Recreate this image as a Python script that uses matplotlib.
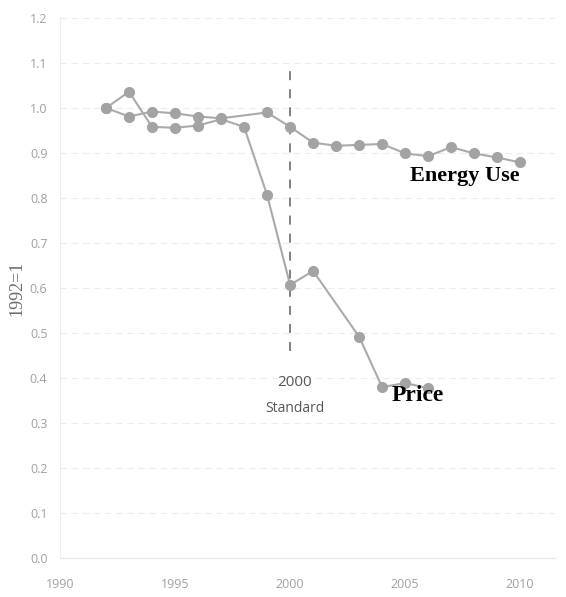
import numpy as np
import matplotlib
matplotlib.use("Agg")
import matplotlib.pyplot as plt

# energy use index (1992 = 1)
energy_years = [1992, 1993, 1994, 1995, 1996, 1997, 1999, 2000, 2001, 2002,
                2003, 2004, 2005, 2006, 2007, 2008, 2009, 2010]
energy_vals = [1.0, 0.981, 0.992, 0.988, 0.981, 0.977, 0.99, 0.958, 0.923, 0.916,
               0.918, 0.92, 0.899, 0.893, 0.913, 0.899, 0.89, 0.879]

# price index (1992 = 1)
price_years = [1992, 1993, 1994, 1995, 1996, 1997, 1998, 1999, 2000, 2001,
               2003, 2004, 2005, 2006]
price_vals = [1.0, 1.036, 0.958, 0.956, 0.961, 0.975, 0.958, 0.807, 0.607, 0.638,
              0.492, 0.38, 0.389, 0.378]

x_ticks = [1990, 1995, 2000, 2005, 2010]
y_ticks = [0.0, 0.1, 0.2, 0.3, 0.4, 0.5, 0.6, 0.7, 0.8, 0.9, 1.0, 1.1, 1.2]

standard_year = 2000
standard_span = (0.46, 1.10)

fig = plt.figure(figsize=(5.66, 5.97), dpi=100)
ax = fig.add_axes([0.106, 0.065, 0.874, 0.905])

line_col = "#aaaaaa"
mark_col = "#a3a3a3"
ax.plot(energy_years, energy_vals, color=line_col, lw=1.5, marker="o",
        ms=7, mfc=mark_col, mec=mark_col, zorder=3)
ax.plot(price_years, price_vals, color=line_col, lw=1.5, marker="o",
        ms=7, mfc=mark_col, mec=mark_col, zorder=3)

ax.vlines(standard_year, standard_span[0], standard_span[1], colors="#777777",
          linestyles=(0, (5, 5)), lw=1.3, zorder=2)
ax.text(standard_year + 0.2, 0.391, "2000", ha="center", va="center",
        fontsize=11, color="#555555", family="Open Sans")
ax.text(standard_year + 0.2, 0.333, "Standard", ha="center", va="center",
        fontsize=10, color="#555555", family="Open Sans")

ax.text(2007.6, 0.848, "Energy Use", ha="center", va="center", fontsize=16,
        fontweight="bold", family="Liberation Serif", color="black")
ax.text(2005.55, 0.362, "Price", ha="center", va="center", fontsize=17,
        fontweight="bold", family="Liberation Serif", color="black")

ax.set_xlim(1990, 2011.5)
ax.set_ylim(0, 1.2)
ax.set_xticks(x_ticks)
ax.set_yticks(y_ticks)
ax.set_yticklabels([f"{v:.1f}" for v in y_ticks])
ax.tick_params(length=0, labelsize=9, labelcolor="#a0a0a0")
ax.tick_params(axis="y", pad=9)
ax.tick_params(axis="x", pad=14)
for lab in ax.get_xticklabels() + ax.get_yticklabels():
    lab.set_family("Open Sans")

ax.set_ylabel("1992=1", family="Liberation Serif", fontsize=13,
              color="#6a6a6a", labelpad=3)

ax.grid(axis="y", color="#ececec", lw=0.8, ls=(0, (6, 4)))
ax.set_axisbelow(True)
for s in ["top", "right"]:
    ax.spines[s].set_visible(False)
ax.spines["left"].set_color("#eeeeee")
ax.spines["bottom"].set_color("#e6e6e6")

fig.savefig("out.png", dpi=100, facecolor="white")
